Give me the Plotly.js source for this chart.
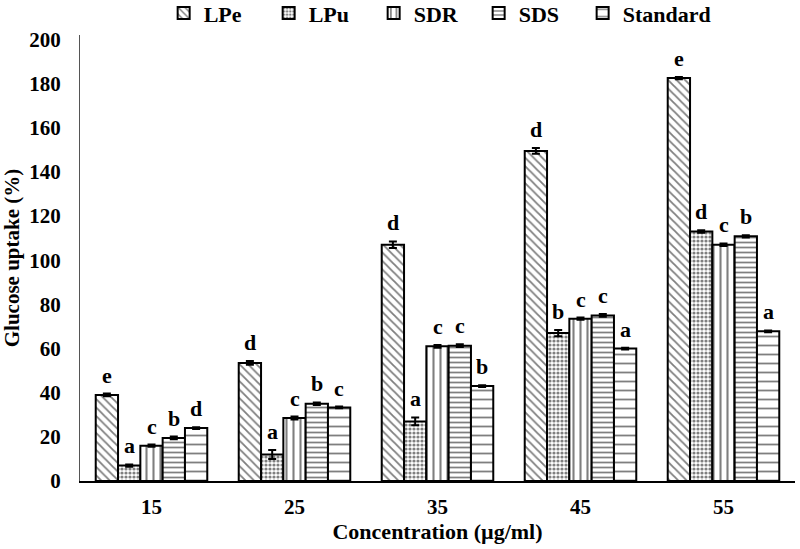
<!DOCTYPE html>
<html>
<head>
<meta charset="utf-8">
<script src="https://cdn.plot.ly/plotly-3.0.1.min.js"></script>
<style>html,body{margin:0;padding:0;background:#fff;}#chart{width:800px;height:549px;}</style>
</head>
<body>
<div id="chart"></div>
<script>
var categories = ['15', '25', '35', '45', '55'];
var seriesNames = ['LPe', 'LPu', 'SDR', 'SDS', 'Standard'];
var LPe = [39, 53.5, 107, 149.5, 182.5];
var LPu = [7, 12, 27, 67, 113];
var SDR = [16, 28.5, 61, 73.5, 107];
var SDS = [19.5, 35, 61.3, 75, 110.8];
var Standard = [24, 33.3, 43, 60, 67.8];
var errLPe = [0.6, 0.8, 1.5, 1.3, 0.5];
var errLPu = [0.5, 2, 1.8, 1.4, 0.6];
var errSDR = [0.5, 0.7, 0.6, 0.5, 0.6];
var errSDS = [0.6, 0.6, 0.6, 0.6, 0.5];
var errStandard = [0.4, 0.4, 0.4, 0.4, 0.4];
var lettersLPe = ['e', 'd', 'd', 'd', 'e'];
var lettersLPu = ['a', 'a', 'a', 'b', 'd'];
var lettersSDR = ['c', 'c', 'c', 'c', 'c'];
var lettersSDS = ['b', 'b', 'c', 'c', 'b'];
var lettersStandard = ['d', 'c', 'b', 'a', 'a'];

var values = [LPe, LPu, SDR, SDS, Standard];
var errs = [errLPe, errLPu, errSDR, errSDS, errStandard];
var letters = [lettersLPe, lettersLPu, lettersSDR, lettersSDS, lettersStandard];
var patterns = [
  {shape: '\\', size: 6, solidity: 0.3},
  {shape: '.', size: 4, solidity: 0.5},
  {shape: '|', size: 7, solidity: 0.3},
  {shape: '-', size: 5, solidity: 0.35},
  {shape: '-', size: 9, solidity: 0.2}
];

var fontFam = '"Liberation Serif", "Times New Roman", serif';
var bargap = 0.22;
var traces = [];
for (var j = 0; j < 5; j++) {
  traces.push({
    type: 'bar',
    name: seriesNames[j],
    legend: j < 4 ? 'legend' : 'legend2',
    x: categories,
    y: values[j],
    marker: {
      color: '#ffffff',
      line: {color: '#000000', width: 2},
      pattern: Object.assign({fgcolor: '#000000', bgcolor: '#ffffff', fillmode: 'overlay'}, patterns[j])
    },
    error_y: {type: 'data', array: errs[j], visible: true, color: '#000000', thickness: 2, width: 4}
  });
}

var annotations = [];
var bw = (1 - bargap) / 5;
for (var j = 0; j < 5; j++) {
  for (var i = 0; i < categories.length; i++) {
    annotations.push({
      x: i + (j - 2) * bw,
      y: values[j][i] + errs[j][i],
      xref: 'x', yref: 'y',
      text: '<b>' + letters[j][i] + '</b>',
      showarrow: false,
      yanchor: 'bottom',
      yshift: 4,
      font: {family: fontFam, size: 22, color: '#000'}
    });
  }
}

var legendFont = {family: fontFam, size: 22, color: '#000', weight: 'bold'};
var layout = {
  width: 800, height: 549,
  margin: {l: 80, r: 5, t: 35, b: 68},
  paper_bgcolor: '#fff', plot_bgcolor: '#fff',
  barmode: 'group', bargap: bargap, bargroupgap: 0,
  showlegend: true,
  legend: {
    orientation: 'h', xref: 'paper', x: 0.117, xanchor: 'left',
    yref: 'container', y: 0.976, yanchor: 'middle',
    font: legendFont, bgcolor: 'rgba(0,0,0,0)',
    entrywidth: 60, entrywidthmode: 'pixels', traceorder: 'normal',
    itemwidth: 30
  },
  legend2: {
    orientation: 'h', xref: 'paper', x: 0.703, xanchor: 'left',
    yref: 'container', y: 0.976, yanchor: 'middle',
    font: legendFont, bgcolor: 'rgba(0,0,0,0)',
    itemwidth: 30
  },
  xaxis: {
    type: 'category',
    showline: true, linecolor: '#000', linewidth: 2,
    ticks: '', showgrid: false, zeroline: false,
    ticklabelstandoff: 6,
    tickfont: {family: fontFam, size: 21, color: '#000', weight: 'bold'},
    title: {text: '<b>Concentration (µg/ml)</b>', font: {family: fontFam, size: 22, color: '#000'}, standoff: 2}
  },
  yaxis: {
    range: [0, 202], dtick: 20, tick0: 0,
    showline: true, linecolor: '#555', linewidth: 1,
    ticks: '', showgrid: false, zeroline: false,
    ticklabelstandoff: 14,
    tickfont: {family: fontFam, size: 21, color: '#000', weight: 'bold'},
    title: {text: '<b>Glucose uptake (%)</b>', font: {family: fontFam, size: 21, color: '#000'}, standoff: 6}
  },
  annotations: annotations
};

Plotly.newPlot('chart', traces, layout, {displayModeBar: false, staticPlot: true});
</script>
</body>
</html>
